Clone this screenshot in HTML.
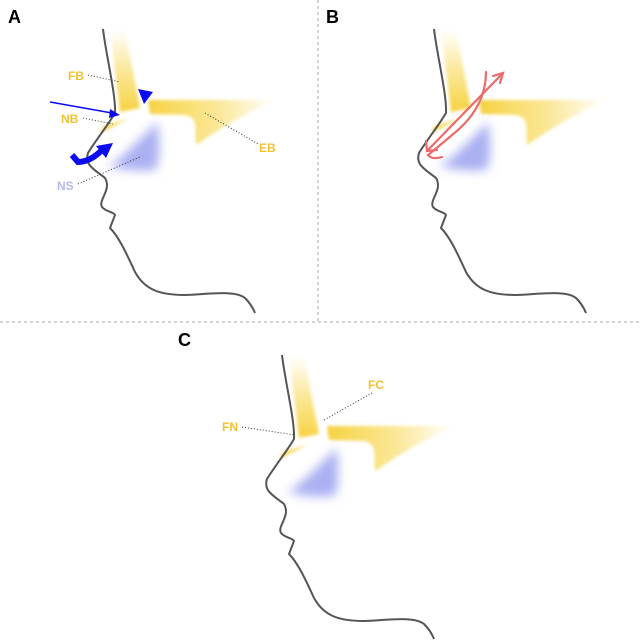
<!DOCTYPE html>
<html><head><meta charset="utf-8"><style>
body{margin:0;background:#fff}
svg{display:block}
text{font-family:"Liberation Sans",sans-serif;font-weight:bold}
</style></head><body>
<svg width="640" height="643" viewBox="0 0 640 643" xmlns="http://www.w3.org/2000/svg">
<defs>
<filter id="b2" x="-50%" y="-50%" width="200%" height="200%"><feGaussianBlur stdDeviation="1.5"/></filter>
<filter id="b6" x="-50%" y="-50%" width="200%" height="200%"><feGaussianBlur stdDeviation="5"/></filter>
<linearGradient id="gv" x1="0" y1="0" x2="0" y2="1"><stop offset="0" stop-color="#f7d443" stop-opacity="0"/><stop offset="0.5" stop-color="#f7d443" stop-opacity="0.55"/><stop offset="1" stop-color="#f5cd2c" stop-opacity="0.9"/></linearGradient>
<linearGradient id="gh" x1="0" y1="0" x2="1" y2="0"><stop offset="0" stop-color="#f5cd2c" stop-opacity="0.9"/><stop offset="0.55" stop-color="#f7d443" stop-opacity="0.55"/><stop offset="1" stop-color="#f7d443" stop-opacity="0"/></linearGradient>
<g id="base">
<path d="M110,30 L125,30 L140,108 L120,112 Z" fill="url(#gv)" filter="url(#b2)"/>
<path d="M148,100 L275,100 Q235,118 196,145 C194,132 200,118 185,115 L150,114 Z" fill="url(#gh)" filter="url(#b2)"/>
<path d="M100,133 L104,126 L128,119 Z" fill="#f5cd2c" opacity="0.85" filter="url(#b2)"/>
<path d="M118,160 Q140,140 157,122 Q162,150 156,170 Q130,172 108,166 Z" fill="#aab0f2" filter="url(#b6)"/>
<path d="M103,29 C106,55 116,95 115,113 C108,125 96,140 88,153 C84,165 95,170 105,178 C112,190 98,200 102,207 C106,212 114,212 115,215 L110,228 C118,236 125,250 135,272 C145,290 160,295 185,295 C210,294 235,290 245,298 C250,303 253,308 255,313" fill="none" stroke="#555" stroke-width="2"/>
</g>
</defs>
<line x1="318" y1="0" x2="318" y2="322" stroke="#aaa" stroke-dasharray="3,3"/>
<line x1="0" y1="322" x2="640" y2="322" stroke="#aaa" stroke-dasharray="3,3"/>
<text x="8" y="23" font-size="18">A</text>
<text x="326" y="23" font-size="18">B</text>
<text x="178" y="346" font-size="18">C</text>

<use href="#base"/>
<use href="#base" transform="translate(331,0)"/>
<use href="#base" transform="translate(179,326)"/>

<!-- A -->
<g font-size="12" fill="#f2c232">
<text x="68" y="80">FB</text><text x="61" y="123">NB</text><text x="259" y="152">EB</text>
<text x="57" y="190" fill="#b4b8f0">NS</text>
</g>
<g stroke="#333" stroke-width="1" stroke-dasharray="1,2" fill="none">
<line x1="88" y1="75" x2="120" y2="82"/><line x1="83" y1="118" x2="113" y2="124"/>
<line x1="205" y1="113" x2="258" y2="144"/><line x1="78" y1="184" x2="140" y2="157"/>
</g>
<path d="M138,89 L153,92 L144,104 Z" fill="#0b0bf0"/>
<line x1="50" y1="102" x2="112" y2="113" stroke="#0b0bf0" stroke-width="1.5"/>
<path d="M120,115 L110,109 L109,118 Z" fill="#0b0bf0"/>
<path d="M72,155 L78,162 Q90,162 102,150" fill="none" stroke="#0b0bf0" stroke-width="6"/>
<path d="M113,143 L96,146 L106,158 Z" fill="#0b0bf0"/>

<!-- B -->
<g fill="none" stroke="#ec6a6a" stroke-width="2.2" stroke-linecap="round">
<path d="M486,72 Q486,105 458,130 Q432,152 428,155 Q432,160 442,157"/>
<path d="M503,73 L427,151"/>
<path d="M493,76 L503,73 L500,83"/>
<path d="M426,141 L427,151 L437,150"/>
</g>

<!-- C -->
<g font-size="12" fill="#f2c232"><text x="222" y="431">FN</text><text x="368" y="389">FC</text></g>
<g stroke="#333" stroke-width="1" stroke-dasharray="1,2" fill="none">
<line x1="242" y1="427" x2="295" y2="435"/><line x1="372" y1="393" x2="324" y2="420"/>
</g>
</svg>
</body></html>
